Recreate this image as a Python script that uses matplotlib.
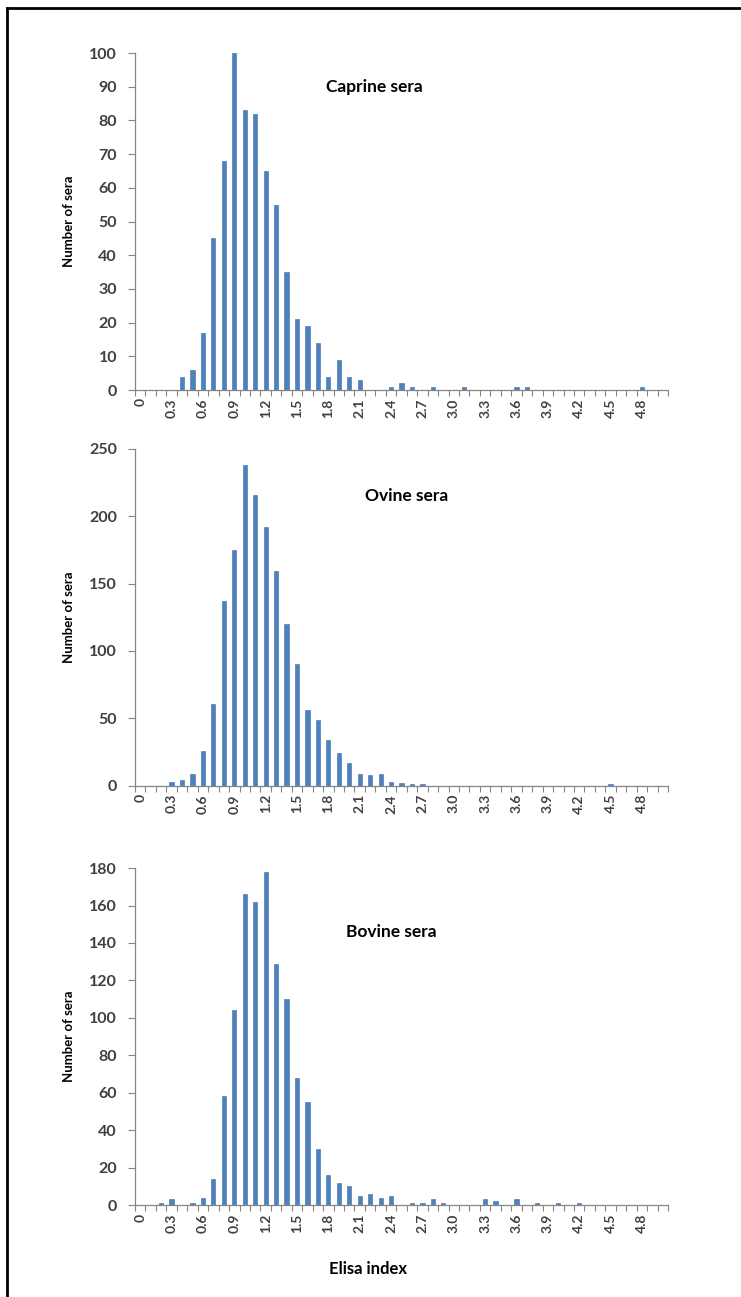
import numpy as np
import matplotlib
matplotlib.use("Agg")
import matplotlib.pyplot as plt
from matplotlib.lines import Line2D

plt.rcParams['font.family'] = ['Lato', 'DejaVu Sans']

# Elisa index categories 0.0 .. 5.0
elisa = [round(0.1 * i, 1) for i in range(51)]
tick_labels = ["0" if v == 0 else "%.1f" % v for v in elisa]

def counts(d):
    out = [0] * len(elisa)
    for k, v in d.items():
        out[int(round(k * 10))] = v
    return out

caprine = counts({0.4: 4, 0.5: 6, 0.6: 17, 0.7: 45, 0.8: 68, 0.9: 100,
                  1.0: 83, 1.1: 82, 1.2: 65, 1.3: 55, 1.4: 35, 1.5: 21,
                  1.6: 19, 1.7: 14, 1.8: 4, 1.9: 9, 2.0: 4, 2.1: 3,
                  2.4: 1, 2.5: 2, 2.6: 1, 2.8: 1, 3.1: 1, 3.6: 1, 3.7: 1,
                  4.8: 1})
ovine = counts({0.3: 3, 0.4: 4, 0.5: 9, 0.6: 26, 0.7: 61, 0.8: 137,
                0.9: 175, 1.0: 238, 1.1: 216, 1.2: 192, 1.3: 159, 1.4: 120,
                1.5: 90, 1.6: 56, 1.7: 49, 1.8: 34, 1.9: 24, 2.0: 17,
                2.1: 9, 2.2: 8, 2.3: 9, 2.4: 3, 2.5: 2, 2.6: 1, 2.7: 1,
                4.5: 1})
bovine = counts({0.2: 1, 0.3: 3, 0.5: 1, 0.6: 4, 0.7: 14, 0.8: 58,
                 0.9: 104, 1.0: 166, 1.1: 162, 1.2: 178, 1.3: 129, 1.4: 110,
                 1.5: 68, 1.6: 55, 1.7: 30, 1.8: 16, 1.9: 12, 2.0: 10,
                 2.1: 5, 2.2: 6, 2.3: 4, 2.4: 5, 2.6: 1, 2.7: 1, 2.8: 3,
                 2.9: 1, 3.3: 3, 3.4: 2, 3.6: 3, 3.8: 1, 4.0: 1, 4.2: 1})

panels = [
    (caprine, "Caprine sera", 100, 10, 0.6993, (0.45, 0.90)),
    (ovine, "Ovine sera", 250, 50, 0.3942, (0.51, 0.86)),
    (bovine, "Bovine sera", 180, 20, 0.0709, (0.48, 0.81)),
]

bar_color = "#4F81BD"
axis_color = "#868686"
label_color = "#404040"

fig = plt.figure(figsize=(7.41, 12.97), dpi=100)

x = np.arange(len(elisa))
for vals, title, ymax, step, bottom, tpos in panels:
    ax = fig.add_axes([0.1822, bottom, 0.7193, 0.2598])
    ax.bar(x, vals, width=0.4, color=bar_color, edgecolor="#3A6EA5", linewidth=0.4)
    ax.set_xlim(-0.5, len(elisa) - 0.5)
    ax.set_ylim(0, ymax)
    ax.set_yticks(np.arange(0, ymax + 1, step))
    ax.set_xticks(x[::3])
    ax.set_xticklabels(tick_labels[::3], rotation=90, fontsize=10,
                       color=label_color, fontweight='bold')
    ax.set_xticks(np.arange(-0.5, len(elisa), 1.0), minor=True)
    ax.tick_params(axis='x', which='major', length=0, pad=6)
    ax.tick_params(axis='x', which='minor', length=4, color=axis_color, width=0.8)
    ax.tick_params(axis='y', length=5, color=axis_color, width=0.8,
                   labelsize=11.5, labelcolor=label_color, pad=8)
    for lab in ax.get_yticklabels():
        lab.set_fontweight('bold')
    for s in ['top', 'right']:
        ax.spines[s].set_visible(False)
    for s in ['left', 'bottom']:
        ax.spines[s].set_color(axis_color)
        ax.spines[s].set_linewidth(0.9)
    ax.set_ylabel("Number of sera", fontsize=9.5, fontweight='bold', labelpad=10)
    ax.text(tpos[0], tpos[1], title, transform=ax.transAxes, fontsize=12.5,
            fontweight='bold', ha='center', va='center')

fig.text(368 / 741, 1 - 1269 / 1297, "Elisa index", fontsize=12, fontweight='bold',
         ha='center', va='center')

# frame lines on left and top edge
fig.add_artist(Line2D([7 / 741, 7 / 741], [0, 1 - 8 / 1297], transform=fig.transFigure,
                      color='black', linewidth=2))
fig.add_artist(Line2D([7 / 741, 1], [1 - 8 / 1297, 1 - 8 / 1297], transform=fig.transFigure,
                      color='black', linewidth=2))

fig.savefig("out.png", dpi=100)
